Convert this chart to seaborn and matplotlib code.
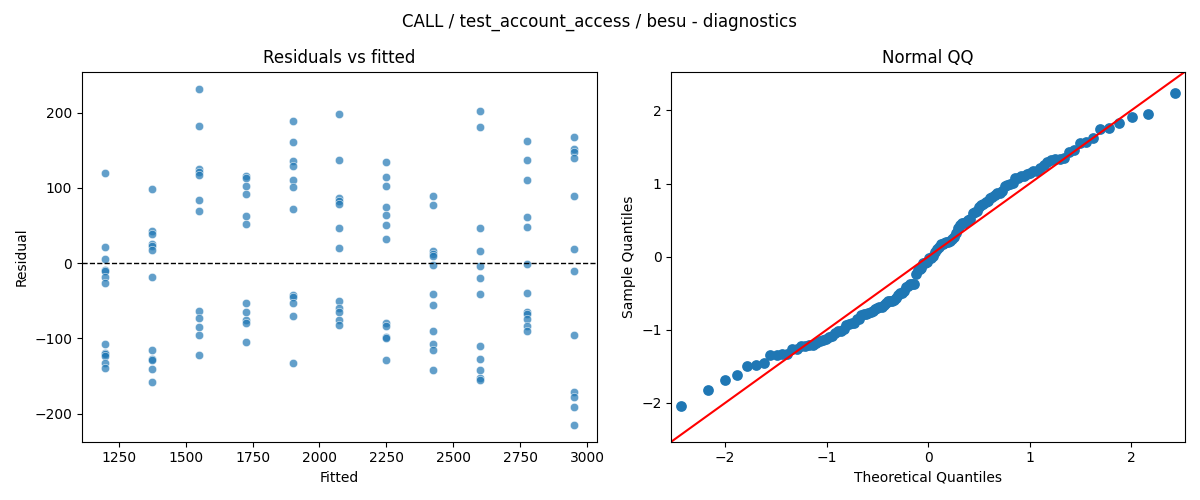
import numpy as np
import pandas as pd
import matplotlib
matplotlib.use("Agg")
import matplotlib.pyplot as plt
import seaborn as sns
from statistics import NormalDist

# Fitted levels and residuals
fitted_levels = [1200, 1375, 1550, 1725, 1900, 2075, 2250, 2425, 2600, 2775, 2950]
resid_1200 = [120, 21, 5, -9, -11, -18, -27, -108, -119, -121, -124, -133, -140]
resid_1375 = [99, 43, 39, 26, 23, 18, -19, -116, -128, -129, -141, -158]
resid_1550 = [232, 182, 125, 121, 117, 84, 69, -63, -73, -85, -96, -122]
resid_1725 = [116, 113, 103, 92, 62, 52, -53, -65, -76, -79, -105]
resid_1900 = [189, 161, 136, 129, 110, 101, 72, -43, -45, -53, -70, -133]
resid_2075 = [198, 137, 86, 82, 78, 47, 20, -50, -60, -65, -75, -82]
resid_2250 = [134, 114, 102, 74, 64, 50, 32, -80, -83, -98, -99, -129]
resid_2425 = [89, 77, 16, 12, 10, -3, -41, -56, -90, -107, -115, -142]
resid_2600 = [202, 181, 47, 16, -4, -20, -41, -110, -128, -142, -153, -156]
resid_2775 = [162, 137, 110, 61, 48, -1, -40, -65, -68, -74, -84, -90]
resid_2950 = [167, 151, 147, 139, 89, 19, -10, -96, -171, -178, -191, -215]

all_resids = [resid_1200, resid_1375, resid_1550, resid_1725, resid_1900, resid_2075,
              resid_2250, resid_2425, resid_2600, resid_2775, resid_2950]

fitted = []
resid = []
for lvl, rs in zip(fitted_levels, all_resids):
    fitted += [lvl] * len(rs)
    resid += rs
df = pd.DataFrame({"Fitted": fitted, "Residual": resid})

# Normal QQ from standardized residuals
r = np.array(resid, dtype=float)
z = np.sort((r - r.mean()) / r.std())
n = len(z)
nd = NormalDist()
theo = np.array([nd.inv_cdf(i / (n + 1)) for i in range(1, n + 1)])
qq = pd.DataFrame({"theo": theo, "sample": z})

fig = plt.figure(figsize=(12, 5), dpi=100)
ax1 = fig.add_axes([0.0683, 0.1166, 0.4292, 0.74])
ax2 = fig.add_axes([0.5594, 0.1166, 0.4281, 0.74])

sns.scatterplot(data=df, x="Fitted", y="Residual", ax=ax1, alpha=0.7, color="C0")
ax1.axhline(0, color="black", linestyle="--", linewidth=1)
ax1.set_title("Residuals vs fitted")
ax1.set_xlabel("Fitted")
ax1.set_ylabel("Residual")
ax1.set_xticks([1250, 1500, 1750, 2000, 2250, 2500, 2750, 3000])
ax1.set_yticks([-200, -100, 0, 100, 200])

sns.scatterplot(data=qq, x="theo", y="sample", ax=ax2, color="#1f77b4",
                linewidth=0, s=60)
lim = (-2.53, 2.53)
ax2.plot(lim, lim, color="red", linewidth=1.5)
ax2.set_xlim(lim)
ax2.set_ylim(lim)
ax2.set_title("Normal QQ")
ax2.set_xlabel("Theoretical Quantiles")
ax2.set_ylabel("Sample Quantiles")
ax2.set_xticks([-2, -1, 0, 1, 2])
ax2.set_yticks([-2, -1, 0, 1, 2])

fig.suptitle("CALL / test_account_access / besu - diagnostics", fontsize=12, y=0.975)
fig.savefig("out.png", dpi=100)
